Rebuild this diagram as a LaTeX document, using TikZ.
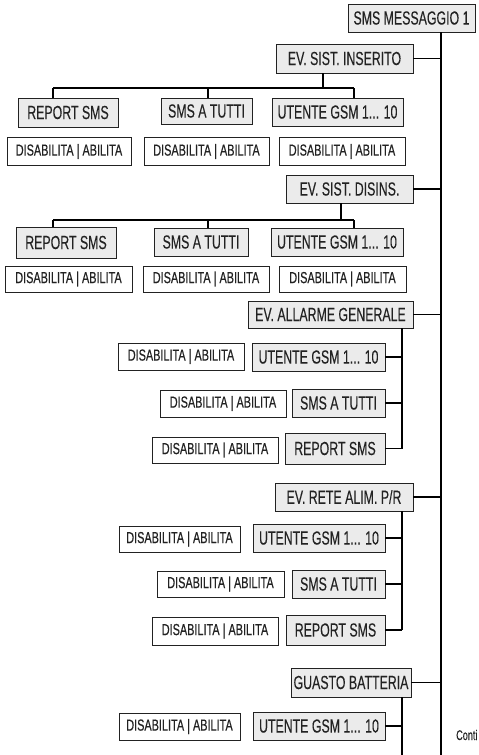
\documentclass[tikz,border=0pt]{standalone}
\usepackage{fontspec}
\setmainfont{Liberation Sans}[FakeStretch=0.65, FakeBold=0.2]
\newfontfamily\optfont{Liberation Sans}[FakeStretch=0.68, FakeBold=0.4]
\usetikzlibrary{calc}

\definecolor{boxgray}{HTML}{EBEBEB}
\definecolor{inkgray}{HTML}{222222}

\tikzset{
  menubox/.style={draw=inkgray, line width=0.9pt, fill=boxgray, text=inkgray,
    inner sep=1pt, font=\fontsize{19}{19}\selectfont},
  choicebox/.style={draw=inkgray, line width=0.8pt, fill=white, text=inkgray,
    inner sep=1pt, font=\optfont\fontsize{16}{16}\selectfont},
  wire/.style={line width=1.1pt, black}
}

\begin{document}
\begin{tikzpicture}[x=1pt, y=-1pt]
  \useasboundingbox (0,0) rectangle (479,755);

  % top level
  \node[menubox, minimum width=127, minimum height=28] (msg) at (411.5,18) {SMS MESSAGGIO 1};
  \coordinate (trunk) at (441,755);

  % events
  \node[menubox, minimum width=137, minimum height=29] (ins) at (344.5,58.5) {EV. SIST. INSERITO};
  \node[menubox, minimum width=127, minimum height=28] (dsn) at (349.5,189) {EV. SIST. DISINS.};
  \node[menubox, minimum width=165, minimum height=27] (gen) at (330.5,314.5) {EV. ALLARME GENERALE};
  \node[menubox, minimum width=138, minimum height=28] (ret) at (344,497) {EV. RETE ALIM. P/R};
  \node[menubox, minimum width=120, minimum height=29] (bat) at (351,682.5) {GUASTO BATTERIA};

  % sistema inserito
  \node[menubox, minimum width=100, minimum height=29] (rep1) at (68,112.5) {REPORT SMS};
  \node[menubox, minimum width=91, minimum height=26] (tut1) at (206.5,111) {SMS A TUTTI};
  \node[menubox, minimum width=131, minimum height=28] (gsm1) at (337.5,112) {UTENTE GSM 1... 10};
  \node[choicebox, minimum width=124, minimum height=28] (dis1a) at (69,151.5) {DISABILITA | ABILITA};
  \node[choicebox, minimum width=125, minimum height=28] (dis1b) at (206.5,151.5) {DISABILITA | ABILITA};
  \node[choicebox, minimum width=126, minimum height=28] (dis1c) at (342,151.5) {DISABILITA | ABILITA};

  % sistema disinserito
  \node[menubox, minimum width=100, minimum height=31] (rep2) at (66,242.5) {REPORT SMS};
  \node[menubox, minimum width=94, minimum height=28] (tut2) at (201,242) {SMS A TUTTI};
  \node[menubox, minimum width=132, minimum height=28] (gsm2) at (337,242) {UTENTE GSM 1... 10};
  \node[choicebox, minimum width=127, minimum height=26] (dis2a) at (68.5,279) {DISABILITA | ABILITA};
  \node[choicebox, minimum width=126, minimum height=26] (dis2b) at (206,279) {DISABILITA | ABILITA};
  \node[choicebox, minimum width=127, minimum height=26] (dis2c) at (342.5,279) {DISABILITA | ABILITA};

  % allarme generale
  \node[menubox, minimum width=133, minimum height=28] (gsm3) at (318.5,357) {UTENTE GSM 1... 10};
  \node[menubox, minimum width=93, minimum height=28] (tut3) at (338.5,403) {SMS A TUTTI};
  \node[menubox, minimum width=100, minimum height=31] (rep3) at (335,448.5) {REPORT SMS};
  \node[choicebox, minimum width=126, minimum height=27] (dis3a) at (181,356.5) {DISABILITA | ABILITA};
  \node[choicebox, minimum width=126, minimum height=27] (dis3b) at (223,403.5) {DISABILITA | ABILITA};
  \node[choicebox, minimum width=126, minimum height=26] (dis3c) at (215,450) {DISABILITA | ABILITA};

  % rete alimentazione
  \node[menubox, minimum width=132, minimum height=28] (gsm4) at (319,538) {UTENTE GSM 1... 10};
  \node[menubox, minimum width=93, minimum height=28] (tut4) at (338.5,584) {SMS A TUTTI};
  \node[menubox, minimum width=99, minimum height=30] (rep4) at (335.5,630) {REPORT SMS};
  \node[choicebox, minimum width=121, minimum height=26] (dis4a) at (179.5,539) {DISABILITA | ABILITA};
  \node[choicebox, minimum width=127, minimum height=26] (dis4b) at (220.5,584) {DISABILITA | ABILITA};
  \node[choicebox, minimum width=126, minimum height=28] (dis4c) at (215,631) {DISABILITA | ABILITA};

  % guasto batteria
  \node[menubox, minimum width=132, minimum height=28] (gsm5) at (319,726) {UTENTE GSM 1... 10};
  \node[choicebox, minimum width=121, minimum height=27] (dis5) at (179.5,726.5) {DISABILITA | ABILITA};

  \node[anchor=west, inner sep=0pt, text=inkgray, font=\fontsize{14}{14}\selectfont] (cont) at (456,735) {Conti};

  % main trunk and event branches
  \draw[wire] (msg.south -| trunk) -- (trunk);
  \foreach \ev in {ins,dsn,gen,ret,bat}
    \draw[wire] (\ev.east) -- (\ev.east -| trunk);

  % horizontal trees
  \coordinate (j1) at (323,88);
  \coordinate (j2) at (341,220);
  \draw[wire] (ins.south -| j1) -- (j1);
  \draw[wire] (dsn.south -| j2) -- (j2);
  \foreach \j/\a/\b/\c in {j1/rep1/tut1/gsm1, j2/rep2/tut2/gsm2} {
    \draw[wire] (53,0 |- \j) -- (354,0 |- \j);
    \draw[wire] (53,0 |- \j) -- (53,0 |- \a.north);
    \draw[wire] (208,0 |- \j) -- (208,0 |- \b.north);
    \draw[wire] (354,0 |- \j) -- (354,0 |- \c.north);
  }

  % vertical sub-trunks
  \coordinate (s3) at (402,0);
  \draw[wire] (gen.south -| s3) -- (rep3.east -| s3);
  \draw[wire] (ret.south -| s3) -- (rep4.east -| s3);
  \draw[wire] (bat.south -| s3) -- (trunk -| s3);
  \foreach \n in {gsm3,tut3,rep3,gsm4,tut4,rep4,gsm5}
    \draw[wire] (\n.east) -- (\n.east -| s3);
\end{tikzpicture}
\end{document}
